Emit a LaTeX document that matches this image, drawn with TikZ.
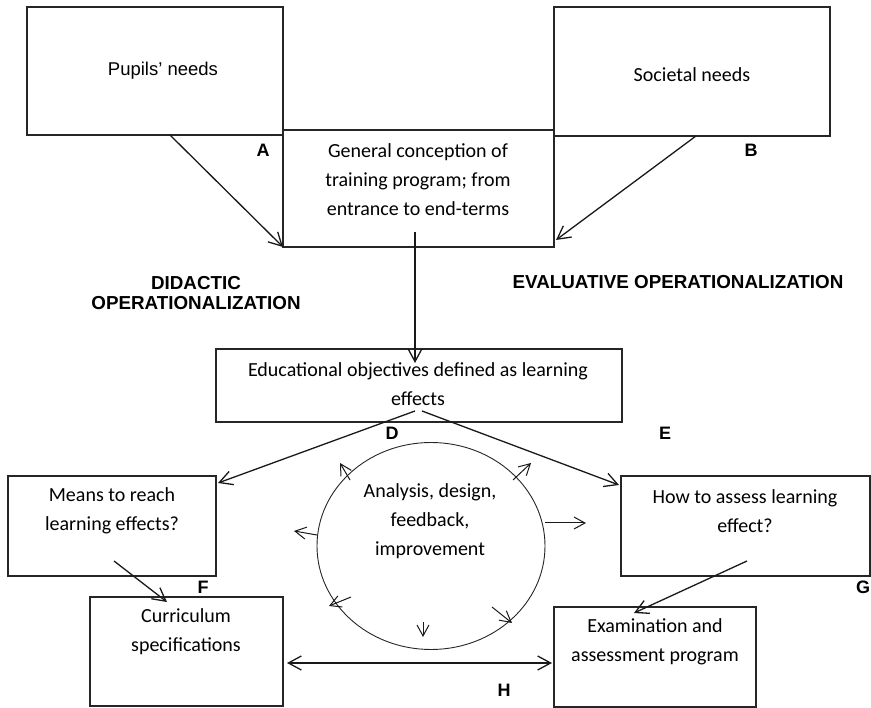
\documentclass[tikz,border=0pt]{standalone}
\usepackage{fontspec}
\setmainfont{Carlito}
\newfontfamily\arialfont{Liberation Sans}
\usetikzlibrary{arrows.meta,shapes.geometric,calc}
\begin{document}
\begin{tikzpicture}[x=1pt,y=-1pt,
  box/.style={draw=black!85, line width=1.3pt, inner sep=0pt, outer sep=0pt, anchor=north west},
  txt/.style={align=center, inner sep=0pt, font=\fontsize{20}{29}\selectfont},
  lbl/.style={inner sep=0pt, font=\arialfont\bfseries\fontsize{18}{20}\selectfont},
  head/.style={align=center, inner sep=0pt, font=\arialfont\bfseries\fontsize{18.8}{20.5}\selectfont},
  arr/.style={-{Straight Barb[length=13pt,width=14pt,line width=1.3pt]}, line width=1.3pt, draw=black!90},
  biarr/.style={{Straight Barb[length=13pt,width=14pt,line width=1.3pt]}-{Straight Barb[length=13pt,width=14pt,line width=1.3pt]}, line width=1.3pt, draw=black!90},
  small/.style={-{Straight Barb[length=11pt,width=12pt,line width=1pt]}, line width=1pt, draw=black!90}]
\useasboundingbox (0,0) rectangle (871,708);

% boxes
\node[box, minimum width=256, minimum height=128] (pupils) at (27,7) {};
\node[box, minimum width=276, minimum height=129] (societal) at (554,7) {};
\node[box, minimum width=271, minimum height=117] (general) at (283,130) {};
\node[box, minimum width=406, minimum height=73] (educ) at (216,349) {};
\node[box, minimum width=208, minimum height=100] (means) at (8,476) {};
\node[box, minimum width=249, minimum height=100] (how) at (621,476) {};
\node[box, minimum width=193, minimum height=109] (curric) at (90,597) {};
\node[box, minimum width=202, minimum height=100] (exam) at (554,607) {};

% central cycle
\node[ellipse, draw=black!85, line width=0.9pt, minimum width=228, minimum height=207, inner sep=0pt] (cycle) at (431,546) {};

% box texts
\node[inner sep=0pt, font=\arialfont\fontsize{18.5}{22}\selectfont] (pupilsT) at (163,71) {Pupils’ needs};
\node[txt] (societalT) at (692,75) {Societal needs};
\node[txt] (generalT) at (418,180) {General conception of\\training program; from\\entrance to end-terms};
\node[txt] (educT) at (418,384) {Educational objectives defined as learning\\effects};
\node[txt] (meansT) at (112,511) {Means to reach\\learning effects?};
\node[txt] (howT) at (745,511) {How to assess learning\\effect?};
\node[txt] (curricT) at (186,632) {Curriculum\\specifications};
\node[txt] (examT) at (655,642) {Examination and\\assessment program};
\node[txt] (cycleT) at (430,521) {Analysis, design,\\feedback,\\improvement};

% headings
\node[head] (didactic) at (196,293) {DIDACTIC\\OPERATIONALIZATION};
\node[head] (evaluative) at (678,282) {EVALUATIVE OPERATIONALIZATION};

% letters
\node[lbl] (lA) at (263,150) {A};
\node[lbl] (lB) at (751,150) {B};
\node[lbl] (lD) at (392,433) {D};
\node[lbl] (lE) at (665,433) {E};
\node[lbl] (lF) at (203,587) {F};
\node[lbl] (lG) at (863,587) {G};
\node[lbl] (lH) at (504,690) {H};

% connectors
\draw[arr] ([xshift=15pt]pupils.south) -- (general.south west);
\draw[arr] ([xshift=4pt]societal.south) -- ([xshift=2pt,yshift=7pt]general.south east);
\draw[arr] ([xshift=-3.5pt,yshift=15pt]general.south) -- ([xshift=-4pt,yshift=-14pt]educ.north);
\draw[arr] ([xshift=-4pt,yshift=11pt]educ.south) -- ([xshift=2pt,yshift=-7pt]means.north east);
\draw[arr] ([xshift=3pt,yshift=11pt]educ.south) -- ([xshift=-2pt,yshift=-9pt]how.north west);
\draw[arr] ([xshift=2pt,yshift=15pt]means.south) -- ([xshift=-19.5pt,yshift=-5pt]curric.north);
\draw[arr] ([xshift=1.5pt,yshift=15pt]how.south) -- ([xshift=-21pt,yshift=-6pt]exam.north);
\draw[biarr] ($(curric.east)+(4,11.5)$) -- ($(exam.west)+(-2,6)$);

% arrows radiating from the cycle
\draw[small] ($(cycle)+(-81,-66)$) -- ++(-10,-17);
\draw[small] ($(cycle)+(82,-66)$) -- ++(18,-17);
\draw[small] ($(cycle)+(-114,-11)$) -- ++(-23,-4);
\draw[small] ($(cycle)+(114,-23)$) -- ++(41,0);
\draw[small] ($(cycle)+(-80,51)$) -- ++(-22,9);
\draw[small] ($(cycle)+(-8,76)$) -- ++(0,15);
\draw[small] ($(cycle)+(61,61)$) -- ++(20,16);
\end{tikzpicture}
\end{document}
